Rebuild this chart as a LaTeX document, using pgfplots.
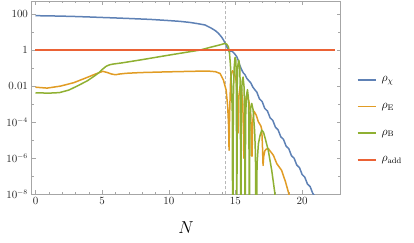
\documentclass[border=0pt]{standalone}
\usepackage{pgfplots}
\pgfplotsset{compat=1.18}
\usepackage{pgfplotstable}
\definecolor{mblue}{HTML}{5E81B5}
\definecolor{morange}{HTML}{E19C24}
\definecolor{mgreen}{HTML}{8FB032}
\definecolor{mred}{HTML}{EB6235}

% columns: N, log10(rho)
\pgfplotstableread{
N l
0 1.906
1 1.895
2 1.88
3 1.86
4 1.835
4.87 1.81
6 1.78
7 1.75
8.6 1.70
9.8 1.645
10.85 1.59
11.6 1.53
12.2 1.46
12.72 1.39
13.22 1.2
13.5 1.07
13.72 0.93
13.95 0.73
14.1 0.56
14.25 0.35
14.35 0.18
14.45 0.02
14.52 -0.09
14.6 -0.08
14.68 -0.05
14.8 -0.1
14.95 -0.22
15.1 -0.37
15.2 -0.55
15.3 -0.8
15.4 -0.98
15.47 -1.1
15.6 -1.28
15.7 -1.35
15.85 -1.57
16.0 -1.7
16.15 -1.82
16.3 -2.05
16.47 -2.22
16.6 -2.33
16.8 -2.71
17.0 -2.85
17.2 -3.24
17.4 -3.38
17.6 -3.76
17.8 -3.90
18.0 -4.28
18.2 -4.43
18.4 -4.81
18.6 -4.95
18.8 -5.33
19.0 -5.47
19.2 -5.86
19.4 -6.00
19.6 -6.38
19.8 -6.52
20.0 -6.90
20.2 -7.05
20.4 -7.43
20.6 -7.57
20.8 -7.95
21.0 -8.15
}\tblue

\pgfplotstableread{
N l
0 -2.06
0.87 -2.11
1.87 -2.0
2.87 -1.81
3.87 -1.52
4.4 -1.36
4.75 -1.26
5.05 -1.18
5.4 -1.25
5.7 -1.33
6.0 -1.37
6.3 -1.33
6.8 -1.29
7.86 -1.25
9.86 -1.21
12.35 -1.17
13.0 -1.17
13.5 -1.2
13.85 -1.3
14.1 -1.67
14.3 -2.22
14.42 -3.15
14.49 -4.3
14.52 -5.56
14.56 -3.6
14.64 -1.55
14.77 -1.15
14.9 -1.25
15.05 -1.7
15.15 -2.8
15.2 -4.6
15.25 -2.6
15.35 -2.0
15.45 -2.15
15.55 -3.0
15.6 -4.5
15.63 -6.0
15.67 -4.2
15.75 -2.8
15.85 -2.55
16.0 -2.8
16.15 -3.6
16.24 -5.9
16.3 -3.9
16.4 -3.4
16.55 -3.6
16.72 -3.98
16.9 -4.2
16.97 -4.4
17.02 -5.2
17.07 -6.4
17.12 -5.9
17.2 -5.6
17.3 -5.5
17.46 -5.46
17.6 -5.6
17.84 -5.83
18.1 -6.3
18.46 -6.67
18.75 -7.3
19.0 -7.96
19.1 -8.2
}\torange

\pgfplotstableread{
N l
0 -2.37
1 -2.39
1.8 -2.36
2.5 -2.22
3.2 -1.97
3.9 -1.7
4.4 -1.45
4.75 -1.26
5.0 -1.08
5.3 -0.9
5.55 -0.82
5.8 -0.78
6.5 -0.71
7.86 -0.55
9.86 -0.3
11.35 -0.12
12.35 0.0
13.1 0.15
13.7 0.26
14.05 0.33
14.22 0.37
14.35 0.32
14.47 0.18
14.55 -0.15
14.62 -0.8
14.7 -1.9
14.76 -3.4
14.8 -12
14.84 -2.8
14.9 -1.0
14.97 -0.4
15.03 -0.55
15.07 -1.8
15.1 -12
15.13 -2.0
15.18 -0.85
15.25 -0.56
15.32 -0.9
15.37 -2.4
15.4 -12
15.44 -2.9
15.5 -1.75
15.57 -1.5
15.64 -2.0
15.69 -3.4
15.72 -12
15.76 -3.8
15.82 -2.55
15.9 -2.2
15.97 -2.65
16.01 -4.0
16.04 -12
16.08 -4.3
16.14 -3.2
16.22 -2.96
16.32 -3.3
16.44 -4.5
16.5 -5.8
16.55 -12
16.62 -6.3
16.72 -5.2
16.84 -4.75
16.97 -4.44
17.1 -4.55
17.25 -4.95
17.46 -5.56
17.72 -6.67
17.96 -7.96
18.05 -9
18.12 -12
}\tgreen

\pgfplotstableread{
N l
0 0
22.45 0
}\tred

\begin{document}
\begin{tikzpicture}
\begin{axis}[
  at={(0,0)}, anchor=south west,
  scale only axis, width=309pt, height=193.3pt,
  xmin=-0.3, xmax=22.88,
  ymode=log, ymin=1e-8, ymax=525,
  xtick={0,5,10,15,20}, minor x tick num=4,
  ytick={1e-8,1e-6,1e-4,1e-2,1,100},
  yticklabels={$10^{-8}$,$10^{-6}$,$10^{-4}$,$0.01$,$1$,$100$},
  minor ytick={1e-7,1e-5,1e-3,1e-1,10},
  tick align=inside,
  major tick length=4pt, minor tick length=2.5pt,
  axis line style={black!35},
  tick style={black!35, line width=0.5pt},
  ticklabel style={font=\fontsize{10.5}{12}\selectfont, text=black!85},
  xlabel={$N$},
  xlabel style={font=\fontsize{19}{22}\selectfont, at={(axis description cs:0.5,0)}, anchor=center, yshift=-33.7pt},
  legend style={at={(axis description cs:1.052,0.385)}, anchor=west, draw=none, fill=none, inner sep=0pt,
    font=\fontsize{12}{14}\selectfont, row sep=20pt, column sep=0pt, cells={anchor=west},
    nodes={inner xsep=5pt, inner ysep=0pt}},
  legend image code/.code={\draw[#1, line width=1.8pt] (0pt,0pt) -- (18pt,0pt);},
]
\addplot[forget plot, black!28, line width=0.5pt, dash pattern=on 3pt off 2pt] coordinates {(14.2,1e-8) (14.2,525)};
\addplot[color=mblue, line width=1.5pt, line join=round] table[x=N, y expr={10^(\thisrow{l})}] {\tblue};
\addlegendentry{$\rho_\chi$}
\addplot[color=morange, line width=1.5pt, line join=round] table[x=N, y expr={10^(\thisrow{l})}] {\torange};
\addlegendentry{$\rho_{\mathrm{E}}$}
\addplot[color=mgreen, line width=1.5pt, line join=round] table[x=N, y expr={10^(\thisrow{l})}] {\tgreen};
\addlegendentry{$\rho_{\mathrm{B}}$}
\addplot[color=mred, line width=1.5pt, line join=round] table[x=N, y expr={10^(\thisrow{l})}] {\tred};
\addlegendentry{$\rho_{\mathrm{add}}$}
\end{axis}
\pgfresetboundingbox
\path[use as bounding box] (-31.5pt,-48.7pt) rectangle (382.5pt,194.3pt);
\end{tikzpicture}
\end{document}
